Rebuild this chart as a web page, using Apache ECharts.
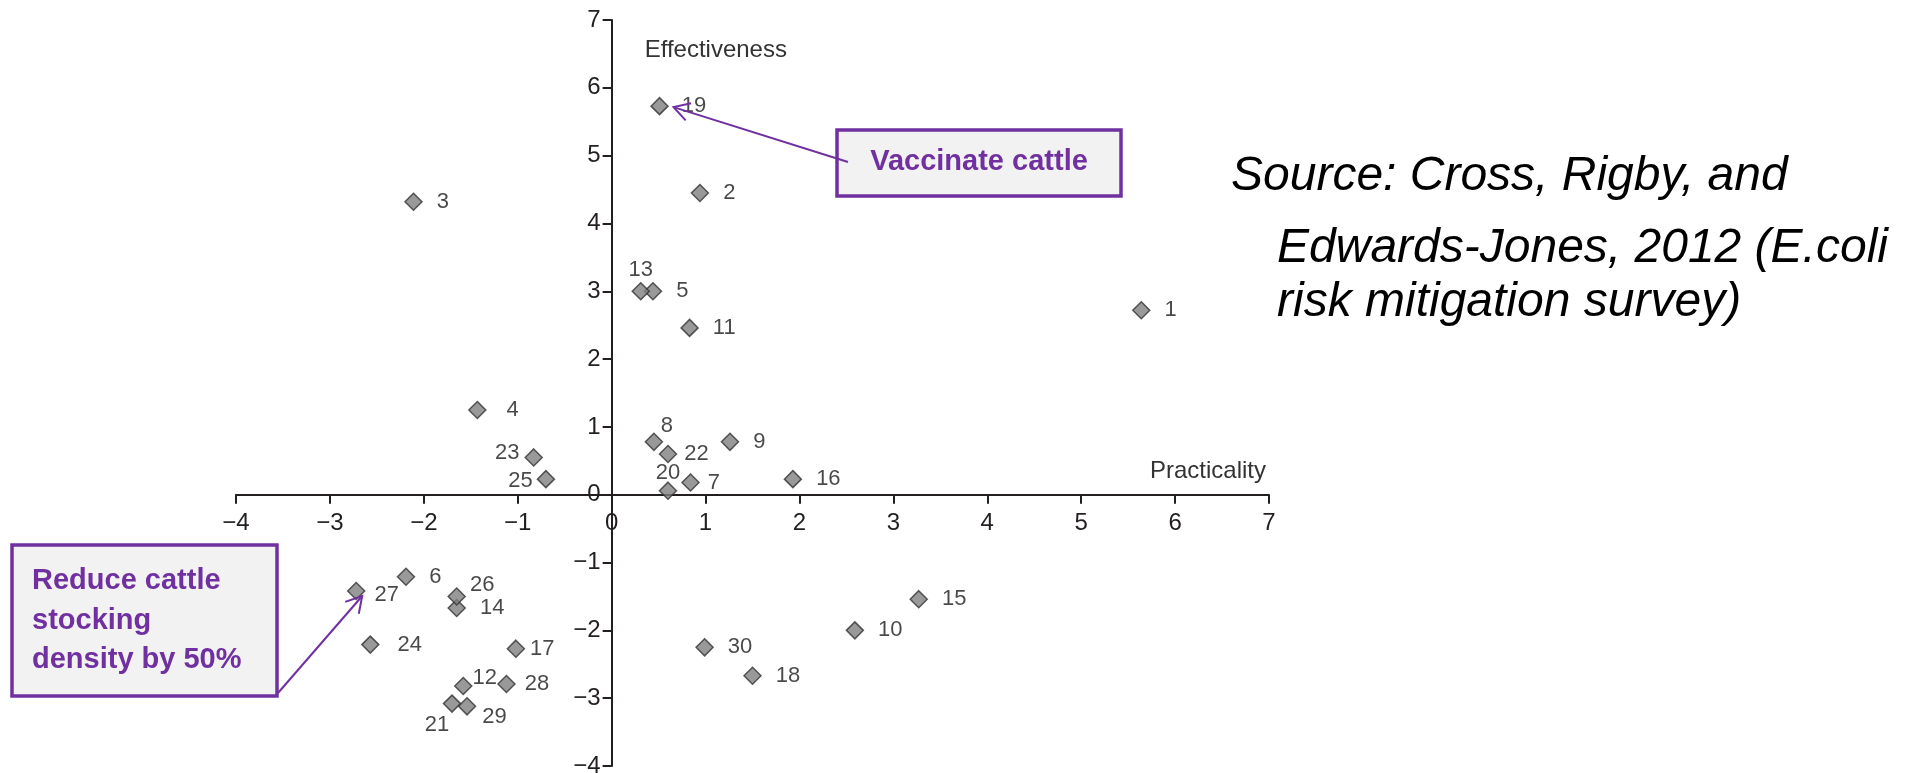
<!DOCTYPE html>
<html>
<head>
<meta charset="utf-8">
<style>
  html, body { margin: 0; padding: 0; background: #fff; }
  #chart { width: 1911px; height: 773px; }
</style>
</head>
<body>
<div id="chart"></div>
<script src="https://cdn.jsdelivr.net/npm/echarts@6/dist/echarts.min.js"></script>
<script>
// mitigation measures (ids as printed next to each point)
const ids = ['1','2','3','4','5','6','7','8','9','10','11','12','13','14','15',
             '16','17','18','19','20','21','22','23','24','25','26','27','28','29','30']
// practicality score (x)
const practicality = [5.64, 0.94, -2.11, -1.43, 0.44, -2.19, 0.84, 0.45, 1.26, 2.59,
                      0.83, -1.58, 0.31, -1.65, 3.27, 1.93, -1.02, 1.50, 0.51, 0.60,
                      -1.70, 0.60, -0.83, -2.57, -0.70, -1.65, -2.72, -1.12, -1.54, 0.99]
// effectiveness score (y)
const effectiveness = [2.72, 4.45, 4.32, 1.25, 3.00, -1.21, 0.18, 0.78, 0.78, -2.00,
                       2.46, -2.82, 3.00, -1.67, -1.54, 0.23, -2.27, -2.67, 5.73, 0.06,
                       -3.08, 0.60, 0.55, -2.21, 0.23, -1.50, -1.42, -2.79, -3.12, -2.25]
const xRange = [-4, 7]
const yRange = [-4, 7]

const sourceLines = ['Source: Cross, Rigby, and', 'Edwards-Jones, 2012 (E.coli', 'risk mitigation survey)']
const noteVaccinate = 'Vaccinate cattle'
const noteStocking = ['Reduce cattle', 'stocking', 'density by 50%']

const FONT = "'Liberation Sans', Arial, Helvetica, sans-serif"
const INK = '#231f20'
const PURPLE = '#7030A0'

// where the id label sits for points that are not simply on the right
const labelPlace = {
  '4': { distance: 20 },
  '7': { distance: 8 },
  '13': { position: 'top', distance: 1 },
  '8': { position: 'top', distance: 0, offset: [13, 4] },
  '20': { position: 'top', distance: 0, offset: [0, 3] },
  '22': { distance: 7 },
  '23': { position: 'left', distance: 5, offset: [0, -4] },
  '25': { position: 'left', distance: 4, offset: [0, 2] },
  '14': { distance: 14 },
  '17': { distance: 5 },
  '24': { distance: 18 },
  '26': { distance: 4, offset: [0, -12] },
  '27': { distance: 9, offset: [0, 4] },
  '28': { distance: 9 },
  '12': { distance: 0, offset: [0, -8] },
  '21': { position: 'bottom', distance: 1, offset: [-15, 0] },
  '29': { distance: 6, offset: [0, 11] },
  '19': { distance: 13 }
}

const points = ids.map((id, i) => {
  const p = labelPlace[id] || {}
  return {
    name: id,
    value: [practicality[i], effectiveness[i]],
    label: {
      position: p.position || 'right',
      distance: p.distance != null ? p.distance : 14,
      offset: p.offset || [0, 0]
    }
  }
})

const minus = v => String(v).replace('-', '\u2212')

// plot box, axes cross at zero inside it
const grid = { left: 236, right: 642, top: 20, bottom: 7 }
const plotW = 1911 - grid.left - grid.right
const plotH = 773 - grid.top - grid.bottom
const xAxisShift = -plotH * (0 - yRange[0]) / (yRange[1] - yRange[0])
const yAxisShift = -plotW * (0 - xRange[0]) / (xRange[1] - xRange[0])

const myChart = echarts.init(document.getElementById('chart'))
const option = {
  animation: false,
  backgroundColor: '#fff',
  grid: Object.assign({ containLabel: false, outerBoundsMode: 'none' }, grid),
  xAxis: {
    type: 'value',
    min: xRange[0], max: xRange[1], interval: 1,
    offset: xAxisShift,
    axisLine: { onZero: false, lineStyle: { color: INK, width: 2 } },
    axisTick: { show: true, length: 9, lineStyle: { color: INK, width: 2 } },
    axisLabel: { color: INK, fontSize: 24, fontFamily: FONT, margin: 17, formatter: minus },
    splitLine: { show: false }
  },
  yAxis: {
    type: 'value',
    min: yRange[0], max: yRange[1], interval: 1,
    offset: yAxisShift,
    axisLine: { onZero: false, lineStyle: { color: INK, width: 2 } },
    axisTick: { show: true, length: 9, lineStyle: { color: INK, width: 2 } },
    axisLabel: { color: INK, fontSize: 24, fontFamily: FONT, margin: 11, formatter: minus },
    splitLine: { show: false }
  },
  series: [{
    type: 'scatter',
    symbol: 'diamond',
    symbolSize: 17,
    itemStyle: { color: '#7f7f7f', borderColor: '#333', borderWidth: 1.5 },
    label: {
      show: true,
      formatter: '{b}',
      color: '#1a1a1a',
      fontSize: 22,
      fontFamily: FONT
    },
    data: points
  }]
}
myChart.setOption(option)

// annotations: computed from the chart's own scales
const px = (x, y) => myChart.convertToPixel({ seriesIndex: 0 }, [x, y])
const idx19 = ids.indexOf('19')
const idx27 = ids.indexOf('27')
const p19 = px(practicality[idx19], effectiveness[idx19])
const p27 = px(practicality[idx27], effectiveness[idx27])
const topAxis = px(0, yRange[1])
const endAxis = px(xRange[1], 0)

function arrow(from, tip) {
  const dx = from[0] - tip[0], dy = from[1] - tip[1]
  const len = Math.sqrt(dx * dx + dy * dy)
  const ux = dx / len, uy = dy / len
  const a = Math.PI / 6, L = 18
  const w1 = [tip[0] + L * (ux * Math.cos(a) - uy * Math.sin(a)), tip[1] + L * (ux * Math.sin(a) + uy * Math.cos(a))]
  const w2 = [tip[0] + L * (ux * Math.cos(a) + uy * Math.sin(a)), tip[1] + L * (-ux * Math.sin(a) + uy * Math.cos(a))]
  return [
    { type: 'polyline', shape: { points: [from, tip] }, style: { stroke: PURPLE, lineWidth: 2 }, z: 10 },
    { type: 'polyline', shape: { points: [w1, tip, w2] }, style: { stroke: PURPLE, lineWidth: 2, fill: null }, z: 10 }
  ]
}

const graphics = [
  // axis titles
  { type: 'text', x: topAxis[0] + 33, y: topAxis[1] + 30,
    style: { text: 'Effectiveness', font: '24px ' + FONT, fill: '#333', textAlign: 'left', textVerticalAlign: 'middle' } },
  { type: 'text', x: endAxis[0] - 3, y: endAxis[1] - 23,
    style: { text: 'Practicality', font: '24px ' + FONT, fill: '#333', textAlign: 'right', textVerticalAlign: 'middle' } },
  // vaccinate box
  { type: 'rect', shape: { x: 837, y: 130, width: 284, height: 66 },
    style: { fill: '#f2f2f2', stroke: PURPLE, lineWidth: 3.5 }, z: 5 },
  { type: 'text', x: 979, y: 162, z: 6,
    style: { text: noteVaccinate, font: 'bold 29px ' + FONT, fill: PURPLE, textAlign: 'center', textVerticalAlign: 'middle' } },
  // stocking density box
  { type: 'rect', shape: { x: 12, y: 545, width: 265, height: 151 },
    style: { fill: '#f2f2f2', stroke: PURPLE, lineWidth: 3.5 }, z: 5 }
]
noteStocking.forEach((t, i) => {
  graphics.push({ type: 'text', x: 32, y: 581 + i * 39.5, z: 6,
    style: { text: t, font: 'bold 29px ' + FONT, fill: PURPLE, textAlign: 'left', textVerticalAlign: 'middle' } })
})
// source note
const srcX = [1231, 1277, 1277]
const srcY = [177, 249, 303]
sourceLines.forEach((t, i) => {
  graphics.push({ type: 'text', x: srcX[i], y: srcY[i],
    style: { text: t, font: 'italic 48px ' + FONT, fill: '#000', textAlign: 'left', textVerticalAlign: 'middle' } })
})
graphics.push(...arrow([848, 162], [p19[0] + 14, p19[1] + 1]))
graphics.push(...arrow([278, 693], [p27[0] + 6, p27[1] + 5]))

myChart.setOption({ graphic: graphics })
window.addEventListener('resize', () => myChart.resize())
</script>
</body>
</html>
